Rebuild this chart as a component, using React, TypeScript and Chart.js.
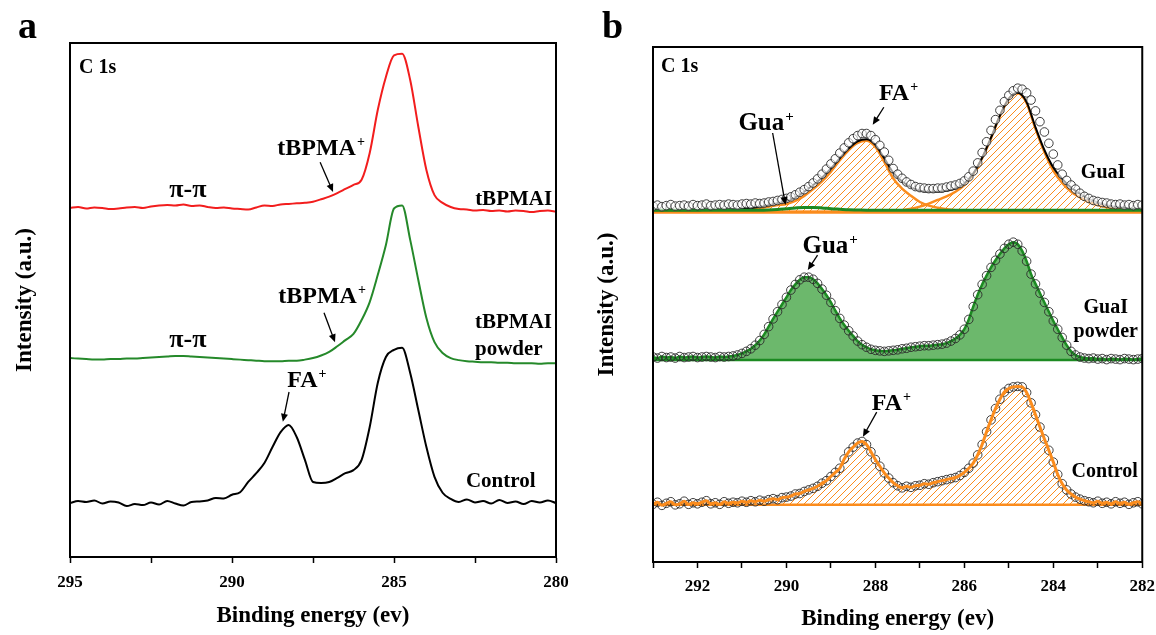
import React, { useEffect, useRef } from 'react';
import { Chart, registerables } from 'chart.js';
Chart.register(...registerables);

const SERIF = '"Liberation Serif", "Times New Roman", serif';
const RED = '#f21d1d';
const GREEN_A = '#25892a';
const ORANGE = '#fb8c1d';
const GREEN_LINE = '#1c8a22';
const GREEN_FILL = '#6cb86c';

// ---------------- Panel a ----------------
const energyA = [
  295, 294.75, 294.5, 294.25, 294, 293.75, 293.5, 293.25, 293, 292.75,
  292.5, 292.25, 292, 291.75, 291.5, 291.25, 291, 290.75, 290.5, 290.25,
  290, 289.75, 289.5, 289.25, 289, 288.75, 288.5, 288.25, 288, 287.75,
  287.5, 287.25, 287, 286.75, 286.5, 286.25, 286, 285.75, 285.5, 285.25,
  285, 284.75, 284.5, 284.25, 284, 283.75, 283.5, 283.25, 283, 282.75,
  282.5, 282.25, 282, 281.75, 281.5, 281.25, 281, 280.75, 280.5, 280.25,
  280,
];
const tbpmaiA = [
  67.9, 68.1, 67.8, 68.0, 67.9, 67.7, 67.8, 68.0, 68.1, 67.9,
  68.2, 68.4, 68.5, 68.4, 68.6, 68.3, 68.4, 68.1, 67.9, 68.0,
  67.8, 67.7, 67.6, 68.0, 68.4, 68.3, 68.6, 68.7, 68.8, 68.9,
  69.1, 69.6, 70.1, 70.8, 71.6, 72.4, 73.4, 78.6, 87.0, 93.4,
  97.6, 97.9, 92.8, 83.7, 75.3, 70.4, 68.9, 68.1, 67.7, 67.6,
  67.4, 67.5, 67.3, 67.4, 67.2, 67.4, 67.3, 67.1, 67.3, 67.4,
  67.2,
];
const tbpmaiPowderA = [
  38.7, 38.6, 38.5, 38.4, 38.4, 38.5, 38.5, 38.6, 38.6, 38.7,
  38.8, 38.9, 39.0, 39.1, 39.1, 39.0, 38.9, 38.8, 38.7, 38.6,
  38.5, 38.4, 38.3, 38.2, 38.1, 38.1, 38.1, 38.2, 38.2, 38.4,
  38.7, 39.2, 39.9, 41.0, 42.2, 43.4, 46.1, 49.6, 54.9, 60.7,
  67.8, 68.4, 61.7, 53.9, 46.5, 41.8, 39.7, 38.7, 38.3, 38.1,
  38.0, 37.9, 37.9, 37.8, 37.8, 37.7, 37.7, 37.7, 37.6, 37.7,
  37.7,
];
const controlA = [
  10.5, 10.9, 10.7, 11.0, 10.4, 10.8, 10.6, 9.9, 10.3, 10.1,
  10.6, 10.2, 10.9, 10.4, 10.0, 10.7, 10.8, 11.0, 11.5, 11.4,
  12.1, 12.6, 14.6, 16.3, 18.3, 21.4, 24.3, 25.7, 23.3, 18.9,
  14.6, 14.4, 14.6, 15.4, 16.3, 16.9, 18.9, 25.3, 33.9, 38.9,
  40.3, 40.7, 35.8, 28.6, 21.4, 15.6, 12.5, 11.3, 10.7, 11.2,
  10.6, 10.9, 10.4, 11.1, 10.5, 10.8, 10.3, 10.9, 10.6, 11.0,
  10.5,
];
const labeledTicksA = [295, 290, 285, 280];

// ---------------- Panel b ----------------
const energyB = [
  293.0, 292.9, 292.8, 292.7, 292.6, 292.5, 292.4, 292.3, 292.2, 292.1,
  292.0, 291.9, 291.8, 291.7, 291.6, 291.5, 291.4, 291.3, 291.2, 291.1,
  291.0, 290.9, 290.8, 290.7, 290.6, 290.5, 290.4, 290.3, 290.2, 290.1,
  290.0, 289.9, 289.8, 289.7, 289.6, 289.5, 289.4, 289.3, 289.2, 289.1,
  289.0, 288.9, 288.8, 288.7, 288.6, 288.5, 288.4, 288.3, 288.2, 288.1,
  288.0, 287.9, 287.8, 287.7, 287.6, 287.5, 287.4, 287.3, 287.2, 287.1,
  287.0, 286.9, 286.8, 286.7, 286.6, 286.5, 286.4, 286.3, 286.2, 286.1,
  286.0, 285.9, 285.8, 285.7, 285.6, 285.5, 285.4, 285.3, 285.2, 285.1,
  285.0, 284.9, 284.8, 284.7, 284.6, 284.5, 284.4, 284.3, 284.2, 284.1,
  284.0, 283.9, 283.8, 283.7, 283.6, 283.5, 283.4, 283.3, 283.2, 283.1,
  283.0, 282.9, 282.8, 282.7, 282.6, 282.5, 282.4, 282.3, 282.2, 282.1,
  282.0,
];
const guaiData = [
  69.1, 69.3, 69.0, 69.2, 69.4, 69.1, 69.2, 69.3, 69.1, 69.4, 69.2, 69.3, 69.5, 69.2, 69.3, 69.4, 69.3, 69.5, 69.4, 69.3, 69.5,
  69.6, 69.5, 69.7, 69.6, 69.7, 69.9, 70.0, 70.2, 70.4, 70.6,
  70.9, 71.3, 71.8, 72.3, 72.9, 73.6, 74.4, 75.3, 76.3, 77.3,
  78.3, 79.4, 80.4, 81.4, 82.2, 82.8, 83.2, 83.2, 82.8, 82.0,
  80.9, 79.6, 78.0, 76.4, 75.3, 74.5, 73.8, 73.3, 72.9, 72.7,
  72.6, 72.5, 72.5, 72.6, 72.6, 72.8, 73.0, 73.2, 73.5, 74.0,
  74.8, 75.9, 77.5, 79.5, 81.6, 83.8, 85.9, 87.7, 89.4, 90.6,
  91.5, 92.0, 91.8, 91.1, 89.7, 87.6, 85.5, 83.5, 81.3, 79.2,
  77.1, 75.3, 74.1, 73.2, 72.4, 71.6, 71.0, 70.6, 70.2, 70.0,
  69.8, 69.7, 69.5, 69.4, 69.5, 69.3, 69.4, 69.2, 69.4, 69.3,
];
const guaiPowderData = [
  39.8, 39.6, 39.9, 39.7, 39.8, 39.6, 39.9, 39.7, 39.8, 39.9, 39.7, 39.8, 39.9, 39.8, 39.7, 39.9, 39.8, 39.9, 40.0, 40.2, 40.5,
  40.9, 41.4, 42.1, 43.0, 44.2, 45.7, 47.2, 48.6, 50.0, 51.4,
  52.8, 53.9, 54.8, 55.3, 55.3, 54.9, 54.1, 53.0, 51.8, 50.4,
  48.8, 47.3, 46.0, 44.9, 43.9, 42.9, 42.2, 41.7, 41.3, 41.1,
  41.0, 40.9, 41.0, 41.1, 41.2, 41.4, 41.5, 41.7, 41.8, 41.9,
  42.0, 42.0, 42.1, 42.2, 42.3, 42.5, 42.9, 43.4, 44.1, 45.2,
  47.1, 49.6, 51.9, 53.9, 55.6, 57.2, 58.6, 59.8, 60.9, 61.7,
  62.1, 61.7, 60.4, 58.4, 55.9, 54.0, 52.2, 50.4, 48.6, 46.8,
  45.2, 43.6, 42.1, 40.9, 40.2, 39.8, 39.6, 39.5, 39.6, 39.4,
  39.5, 39.3, 39.5, 39.4, 39.3, 39.5, 39.4, 39.3, 39.4, 39.5,
];
const controlBData = [
  11.2, 11.6, 11.0, 11.4, 11.7, 11.1, 11.3, 11.8, 11.2, 11.5, 11.3, 11.6, 11.9, 11.3, 11.5, 11.2, 11.7, 11.4, 11.6, 11.5, 11.8,
  11.6, 11.9, 11.7, 12.0, 11.8, 12.1, 12.3, 12.1, 12.5, 12.6,
  12.8, 13.2, 13.3, 13.7, 14.0, 14.3, 14.7, 15.3, 15.8, 16.6,
  17.4, 18.2, 20.0, 21.4, 22.3, 23.1, 23.4, 22.8, 21.4, 19.9,
  18.6, 17.3, 16.3, 15.4, 14.8, 14.4, 14.7, 14.5, 14.8, 14.9,
  15.2, 15.1, 15.4, 15.6, 15.8, 16.0, 16.2, 16.4, 16.8, 17.4,
  18.2, 19.2, 20.8, 22.8, 25.3, 27.6, 29.8, 31.6, 33.0, 33.7,
  34.0, 34.1, 34.0, 32.9, 30.9, 28.6, 26.2, 23.9, 21.7, 19.4,
  17.0, 15.2, 14.0, 13.2, 12.6, 12.2, 11.9, 11.7, 11.5, 11.8,
  11.4, 11.6, 11.3, 11.7, 11.4, 11.6, 11.2, 11.5, 11.7, 11.3,
];

const energyFit = [
  293.0, 292.8, 292.6, 292.4, 292.2, 292.0, 291.8, 291.6, 291.4, 291.2,
  291.0, 290.8, 290.6, 290.4, 290.2, 290.0, 289.8, 289.6, 289.4, 289.2,
  289.0, 288.8, 288.6, 288.4, 288.2, 288.0, 287.8, 287.6, 287.4, 287.2,
  287.0, 286.8, 286.6, 286.4, 286.2, 286.0, 285.8, 285.6, 285.4, 285.2,
  285.0, 284.8, 284.6, 284.4, 284.2, 284.0, 283.8, 283.6, 283.4, 283.2,
  283.0, 282.8, 282.6, 282.4, 282.2, 282.0,
];
const guaiFaFit = [
  68.0, 68.0, 68.0, 68.0, 68.0, 68.0, 68.0, 68.1, 68.1, 68.2,
  68.2, 68.4, 68.7, 69.0, 69.3, 69.5, 70.1, 71.1, 72.4, 73.9,
  75.8, 78.0, 80.0, 81.4, 81.8, 80.6, 77.7, 74.5, 72.5, 71.1,
  69.9, 69.2, 68.8, 68.5, 68.3, 68.2, 68.1, 68.0, 68.0, 68.0,
  68.0, 68.0, 68.0, 68.0, 68.0, 68.0, 68.0, 68.0, 68.0, 68.0,
  68.0, 68.0, 68.0, 68.0, 68.0, 68.0,
];
const guaiMainFit = [
  68.0, 68.0, 68.0, 68.0, 68.0, 68.0, 68.0, 68.0, 68.0, 68.0,
  68.0, 68.0, 68.0, 68.0, 68.0, 68.0, 68.0, 68.0, 68.0, 68.0,
  68.0, 68.0, 68.0, 68.0, 68.0, 68.0, 68.0, 68.1, 68.3, 68.6,
  69.0, 69.6, 70.3, 71.0, 71.9, 73.2, 75.3, 78.4, 82.3, 86.6,
  89.9, 91.0, 89.1, 84.1, 79.6, 76.0, 73.6, 71.9, 70.8, 69.9,
  69.3, 68.9, 68.6, 68.4, 68.2, 68.1,
];
const guaiGuaFit = [
  68.3, 68.3, 68.3, 68.3, 68.3, 68.3, 68.3, 68.3, 68.3, 68.3,
  68.3, 68.3, 68.3, 68.35, 68.45, 68.6, 68.75, 68.85, 68.85, 68.75,
  68.6, 68.5, 68.4, 68.35, 68.3, 68.3, 68.3, 68.3, 68.3, 68.3,
  68.3, 68.3, 68.3, 68.3, 68.3, 68.3, 68.3, 68.3, 68.3, 68.3,
  68.3, 68.3, 68.3, 68.3, 68.3, 68.3, 68.3, 68.3, 68.3, 68.3,
  68.3, 68.3, 68.3, 68.3, 68.3, 68.3,
];
const guaiEnvelope = [
  68.3, 68.3, 68.3, 68.3, 68.3, 68.3, 68.4, 68.4, 68.4, 68.5,
  68.5, 68.7, 69.0, 69.3, 69.7, 70.1, 70.8, 71.9, 73.2, 74.6,
  76.4, 78.4, 80.3, 81.7, 82.1, 81.0, 78.4, 75.6, 73.9, 72.8,
  72.1, 71.9, 71.9, 72.1, 72.5, 73.5, 75.4, 78.5, 82.4, 86.7,
  90.0, 91.1, 89.3, 84.4, 80.0, 76.6, 74.4, 72.7, 71.5, 70.5,
  69.8, 69.3, 69.0, 68.8, 68.6, 68.5,
];
const baseGuai = 67.9;
const baseGuaiPowder = 39.2;
const baseControlB = 11.1;
const labeledTicksB = [292, 290, 288, 286, 284, 282];

// ---------------- Annotations (data coordinates) ----------------
type Note = { text: string; sup?: string; x: number; y: number; size: number; align: 'left' | 'center' | 'right' };
type Arrow = { x1: number; y1: number; x2: number; y2: number };

const notesA: Note[] = [
  { text: 'π-π', x: 291.36, y: 70.0, size: 26, align: 'center' },
  { text: 'tBPMA', sup: '+', x: 287.25, y: 78.2, size: 24, align: 'center' },
  { text: 'tBPMAI', x: 280.12, y: 68.5, size: 21, align: 'right' },
  { text: 'π-π', x: 291.36, y: 40.9, size: 26, align: 'center' },
  { text: 'tBPMA', sup: '+', x: 287.22, y: 49.4, size: 24, align: 'center' },
  { text: 'tBPMAI', x: 282.5, y: 44.6, size: 21, align: 'left' },
  { text: 'powder', x: 282.5, y: 39.3, size: 21, align: 'left' },
  { text: 'FA', sup: '+', x: 287.69, y: 33.1, size: 24, align: 'center' },
  { text: 'Control', x: 282.78, y: 13.6, size: 21, align: 'left' },
];
const arrowsA: Arrow[] = [
  { x1: 287.28, y1: 76.8, x2: 286.88, y2: 71.0 },
  { x1: 287.16, y1: 47.5, x2: 286.82, y2: 41.8 },
  { x1: 288.24, y1: 32.1, x2: 288.43, y2: 26.3 },
];
const notesB: Note[] = [
  { text: 'FA', sup: '+', x: 287.92, y: 89.7, size: 24, align: 'left' },
  { text: 'Gua', sup: '+', x: 291.08, y: 83.9, size: 25, align: 'left' },
  { text: 'GuaI', x: 283.38, y: 74.6, size: 20, align: 'left' },
  { text: 'Gua', sup: '+', x: 289.64, y: 60.0, size: 25, align: 'left' },
  { text: 'GuaI', x: 282.82, y: 48.3, size: 20, align: 'center' },
  { text: 'powder', x: 282.82, y: 43.7, size: 20, align: 'center' },
  { text: 'FA', sup: '+', x: 288.08, y: 29.5, size: 24, align: 'left' },
  { text: 'Control', x: 283.59, y: 16.5, size: 20, align: 'left' },
];
const arrowsB: Arrow[] = [
  { x1: 287.81, y1: 88.3, x2: 288.06, y2: 84.9 },
  { x1: 290.31, y1: 83.3, x2: 290.02, y2: 69.3 },
  { x1: 289.3, y1: 59.6, x2: 289.52, y2: 56.7 },
  { x1: 287.97, y1: 29.1, x2: 288.28, y2: 24.3 },
];

// ---------------- helpers ----------------
const pts = (xs: number[], ys: number[]) => xs.map((x, i) => ({ x, y: ys[i] }));

function makeHatch(color: string) {
  const c = document.createElement('canvas');
  c.width = 7;
  c.height = 7;
  const g = c.getContext('2d')!;
  g.strokeStyle = color;
  g.lineWidth = 1;
  g.beginPath();
  g.moveTo(0, 7); g.lineTo(7, 0);
  g.moveTo(-1, 1); g.lineTo(1, -1);
  g.moveTo(6, 8); g.lineTo(8, 6);
  g.stroke();
  return g.createPattern(c, 'repeat')!;
}

function panelPlugin(letter: string, letterX: number, c1sDx: number, c1sDy: number, notes: Note[], arrows: Arrow[]) {
  return {
    id: 'panel_' + letter,
    afterDraw(chart: any) {
      const { ctx, chartArea: ca, scales } = chart;
      const xs = scales.x, ys = scales.y;
      ctx.save();
      ctx.strokeStyle = '#000';
      ctx.lineWidth = 2;
      ctx.strokeRect(ca.left, ca.top, ca.right - ca.left, ca.bottom - ca.top);
      ctx.fillStyle = '#000';
      ctx.textBaseline = 'alphabetic';
      ctx.textAlign = 'left';
      ctx.font = `bold 38px ${SERIF}`;
      ctx.fillText(letter, letterX, 38);
      ctx.font = `bold 20px ${SERIF}`;
      ctx.fillText('C 1s', ca.left + c1sDx, ca.top + c1sDy);

      for (const n of notes) {
        const px = xs.getPixelForValue(n.x);
        const py = ys.getPixelForValue(n.y);
        ctx.font = `bold ${n.size}px ${SERIF}`;
        const w = ctx.measureText(n.text).width;
        const supSize = Math.round(n.size * 0.6);
        let supW = 0;
        if (n.sup) {
          ctx.font = `bold ${supSize}px ${SERIF}`;
          supW = ctx.measureText(n.sup).width + 1;
        }
        const total = w + supW;
        const left = n.align === 'center' ? px - total / 2 : n.align === 'right' ? px - total : px;
        ctx.font = `bold ${n.size}px ${SERIF}`;
        ctx.fillText(n.text, left, py);
        if (n.sup) {
          ctx.font = `bold ${supSize}px ${SERIF}`;
          ctx.fillText(n.sup, left + w + 1, py - n.size * 0.36);
        }
      }

      ctx.lineWidth = 1.3;
      for (const a of arrows) {
        const x1 = xs.getPixelForValue(a.x1), y1 = ys.getPixelForValue(a.y1);
        const x2 = xs.getPixelForValue(a.x2), y2 = ys.getPixelForValue(a.y2);
        const ang = Math.atan2(y2 - y1, x2 - x1);
        const head = 8, half = 3.5;
        const cx = Math.cos(ang), sx = Math.sin(ang);
        ctx.beginPath();
        ctx.moveTo(x1, y1);
        ctx.lineTo(x2 - head * 0.8 * cx, y2 - head * 0.8 * sx);
        ctx.stroke();
        ctx.beginPath();
        ctx.moveTo(x2, y2);
        ctx.lineTo(x2 - head * cx + half * sx, y2 - head * sx - half * cx);
        ctx.lineTo(x2 - head * cx - half * sx, y2 - head * sx + half * cx);
        ctx.closePath();
        ctx.fill();
      }
      ctx.restore();
    },
  };
}

function scalesFor(min: number, max: number, step: number, labeled: number[], xh: number, yw: number, tickPad: number, xTitlePad: number, yTitlePad: number) {
  return {
    x: {
      type: 'linear', min, max, reverse: true,
      ticks: {
        stepSize: step, autoSkip: false, maxRotation: 0, color: '#000', padding: tickPad,
        font: { family: SERIF, size: 17, weight: 'bold' },
        callback: (v: any) => (labeled.includes(Number(v)) ? String(v) : ''),
      },
      grid: { display: true, drawOnChartArea: false, drawTicks: true, tickLength: 6, tickWidth: 1.5, tickColor: '#000', color: '#000' },
      border: { display: true, color: '#000', width: 2 },
      title: {
        display: true, text: 'Binding energy (ev)', color: '#000',
        font: { family: SERIF, size: 23, weight: 'bold' }, padding: { top: 0, bottom: xTitlePad },
      },
      afterFit: (s: any) => { s.height = xh; },
    },
    y: {
      type: 'linear', min: 0, max: 100,
      ticks: { display: false },
      grid: { display: false },
      border: { display: true, color: '#000', width: 2 },
      title: {
        display: true, text: 'Intensity (a.u.)', color: '#000',
        font: { family: SERIF, size: 23, weight: 'bold' }, padding: { top: yTitlePad, bottom: 0 },
      },
      afterFit: (s: any) => { s.width = yw; },
    },
  };
}

const lineBase = { pointRadius: 0, fill: false, cubicInterpolationMode: 'monotone' };

function configA(): any {
  return {
    type: 'line',
    data: {
      datasets: [
        { ...lineBase, data: pts(energyA, tbpmaiA), borderColor: RED, borderWidth: 2 },
        { ...lineBase, data: pts(energyA, tbpmaiPowderA), borderColor: GREEN_A, borderWidth: 2 },
        { ...lineBase, data: pts(energyA, controlA), borderColor: '#000', borderWidth: 2 },
      ],
    },
    options: {
      animation: false, responsive: false, events: [],
      layout: { padding: { left: 0, right: 24, top: 43, bottom: 0 } },
      plugins: { legend: { display: false }, tooltip: { enabled: false } },
      scales: scalesFor(280, 295, 2.5, labeledTicksA, 78, 70, 9, 5, 11),
    },
    plugins: [panelPlugin('a', 18, 9, 30, notesA, arrowsA)],
  };
}

function configB(): any {
  const hatch = makeHatch(ORANGE);
  const circles = (ys: number[], fillC: string, order: number) => ({
    data: pts(energyB, ys), showLine: false, pointStyle: 'circle', pointRadius: 4.3,
    pointBorderWidth: 0.9, pointBorderColor: '#2a2a2a', pointBackgroundColor: fillC, order,
  });
  const ends = [energyFit[0], energyFit[energyFit.length - 1]];
  return {
    type: 'line',
    data: {
      datasets: [
        // GuaI (top)
        { ...lineBase, data: pts(energyFit, guaiFaFit), borderColor: ORANGE, borderWidth: 2.5, backgroundColor: hatch, fill: { value: baseGuai }, order: 30 },
        { ...lineBase, data: pts(energyFit, guaiMainFit), borderColor: ORANGE, borderWidth: 2.5, backgroundColor: hatch, fill: { value: baseGuai }, order: 30 },
        { ...lineBase, data: pts(ends, [baseGuai, baseGuai]), borderColor: ORANGE, borderWidth: 3, order: 29 },
        { ...lineBase, data: pts(energyFit, guaiEnvelope), borderColor: '#000', borderWidth: 2, order: 28 },
        { ...lineBase, data: pts(energyFit, guaiGuaFit), borderColor: GREEN_LINE, borderWidth: 3, order: 27 },
        circles(guaiData, 'rgba(255,255,255,0.6)', 10),
        // GuaI powder (middle)
        { ...lineBase, data: pts(energyB, guaiPowderData), borderColor: GREEN_LINE, borderWidth: 2.5, backgroundColor: GREEN_FILL, fill: { value: baseGuaiPowder }, order: 30 },
        { ...lineBase, data: pts(ends, [baseGuaiPowder, baseGuaiPowder]), borderColor: GREEN_LINE, borderWidth: 2.5, order: 29 },
        circles(guaiPowderData, 'rgba(255,255,255,0)', 10),
        // Control (bottom)
        { ...lineBase, data: pts(energyB, controlBData), borderWidth: 0, borderColor: 'rgba(0,0,0,0)', backgroundColor: hatch, fill: { value: baseControlB }, order: 30 },
        { ...lineBase, data: pts(ends, [baseControlB, baseControlB]), borderColor: ORANGE, borderWidth: 2.5, order: 29 },
        circles(controlBData, 'rgba(255,255,255,0)', 10),
        { ...lineBase, data: pts(energyB, controlBData), borderColor: ORANGE, borderWidth: 3, order: 5 },
      ],
    },
    options: {
      animation: false, responsive: false, events: [],
      layout: { padding: { left: 0, right: 8, top: 47, bottom: 0 } },
      plugins: { legend: { display: false }, tooltip: { enabled: false } },
      scales: scalesFor(282, 293, 1, labeledTicksB, 73, 73, 8, 2, 13),
    },
    plugins: [panelPlugin('b', 22, 8, 25, notesB, arrowsB)],
  };
}

export default function App() {
  const refA = useRef<HTMLCanvasElement>(null);
  const refB = useRef<HTMLCanvasElement>(null);
  useEffect(() => {
    document.body.style.margin = '0';
    const ca = new Chart(refA.current!, configA());
    const cb = new Chart(refB.current!, configB());
    return () => {
      ca.destroy();
      cb.destroy();
    };
  }, []);
  return (
    <div style={{ position: 'relative', width: 1156, height: 635, background: '#fff', overflow: 'hidden' }}>
      <canvas ref={refA} width={580} height={635} style={{ position: 'absolute', left: 0, top: 0, width: 580, height: 635 }} />
      <canvas ref={refB} width={583} height={635} style={{ position: 'absolute', left: 580, top: 0, width: 583, height: 635 }} />
    </div>
  );
}
